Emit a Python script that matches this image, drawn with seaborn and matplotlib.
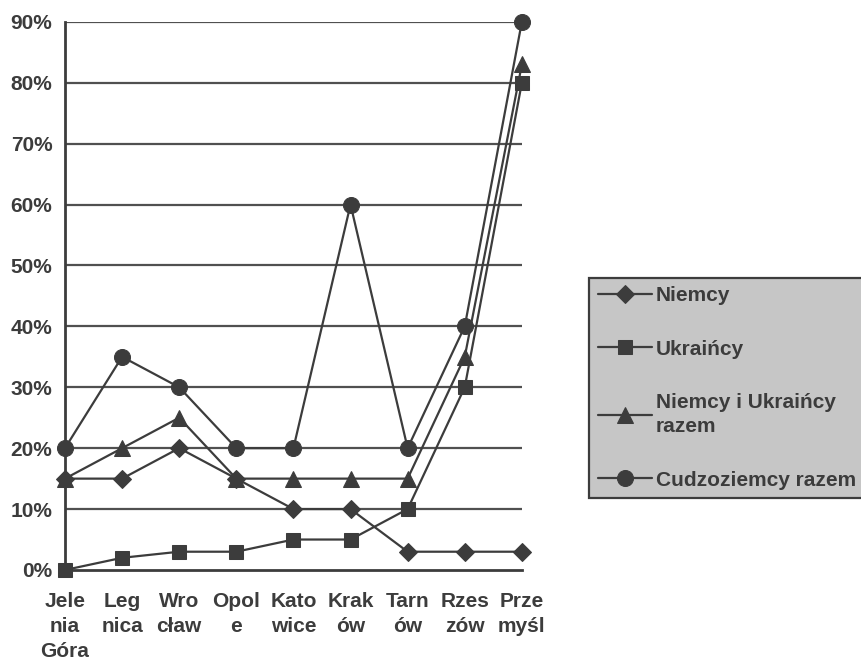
import numpy as np
import pandas as pd
import matplotlib
matplotlib.use("Agg")
import matplotlib.pyplot as plt
import seaborn as sns

# ============================================
# Data
# ============================================
cities = ["Jele\nnia\nGóra", "Leg\nnica", "Wro\ncław", "Opol\ne", "Kato\nwice",
          "Krak\nów", "Tarn\nów", "Rzes\nzów", "Prze\nmyśl"]
niemcy = [15, 15, 20, 15, 10, 10, 3, 3, 3]
ukraincy = [0, 2, 3, 3, 5, 5, 10, 30, 80]
razem_nu = [15, 20, 25, 15, 15, 15, 15, 35, 83]
cudzoziemcy = [20, 35, 30, 20, 20, 60, 20, 40, 90]
series_names = ["Niemcy", "Ukraińcy", "Niemcy i Ukraińcy\nrazem", "Cudzoziemcy razem"]
y_ticks = [0, 10, 20, 30, 40, 50, 60, 70, 80, 90]

df = pd.DataFrame({
    "x": list(range(len(cities))) * 4,
    "value": niemcy + ukraincy + razem_nu + cudzoziemcy,
    "seria": np.repeat(series_names, len(cities)),
})

# ============================================
# Plot
# ============================================
sns.set_style("white")
plt.rcParams["font.family"] = ["Liberation Sans", "DejaVu Sans"]
dark = "#3c3c3c"
fs = 15

fig = plt.figure(figsize=(8.62, 6.62), dpi=100)
ax = fig.add_axes([0.0754, 0.139, 0.530, 0.828])

for y in y_ticks[1:]:
    ax.axhline(y, color="#505050", lw=1.6, zorder=1)

markers = {series_names[0]: "D", series_names[1]: "s",
           series_names[2]: "^", series_names[3]: "o"}
sizes = {series_names[0]: 9, series_names[1]: 10.5,
         series_names[2]: 11, series_names[3]: 11.5}

for name in series_names:
    sub = df[df["seria"] == name]
    sns.lineplot(data=sub, x="x", y="value", ax=ax, color=dark, lw=1.6,
                 marker=markers[name], markersize=sizes[name],
                 markeredgecolor=dark, markerfacecolor=dark,
                 label=name, zorder=3, clip_on=False)

ax.set_xlim(0, len(cities) - 1)
ax.set_ylim(0, 90)
ax.set_yticks(y_ticks)
ax.set_yticklabels([f"{v}%" for v in y_ticks])
ax.set_xticks(range(len(cities)))
ax.set_xticklabels(cities, linespacing=1.38)
ax.set_xlabel("")
ax.set_ylabel("")
ax.tick_params(axis="both", labelsize=fs, colors=dark, labelcolor=dark)
ax.tick_params(axis="x", direction="out", length=5, width=1.5, pad=11)
ax.tick_params(axis="y", direction="out", length=5, width=1.5, pad=4)
for lab in ax.get_xticklabels() + ax.get_yticklabels():
    lab.set_fontweight("bold")

for side in ["top", "right"]:
    ax.spines[side].set_visible(False)
ax.spines["left"].set_color(dark)
ax.spines["bottom"].set_color(dark)
ax.spines["left"].set_linewidth(2)
ax.spines["bottom"].set_linewidth(2)

leg = ax.legend(loc="upper left", bbox_to_anchor=(0.6835, 0.58), bbox_transform=fig.transFigure,
                frameon=True, fancybox=False, facecolor="#c6c6c6", edgecolor=dark,
                fontsize=fs, handlelength=2.6, handletextpad=0.2, labelspacing=1.65,
                borderpad=0.4, borderaxespad=0, framealpha=1)
leg.get_frame().set_linewidth(1.6)
for t in leg.get_texts():
    t.set_fontweight("bold")
    t.set_color(dark)
    t.set_linespacing(1.35)

fig.savefig("out.png", dpi=100)
